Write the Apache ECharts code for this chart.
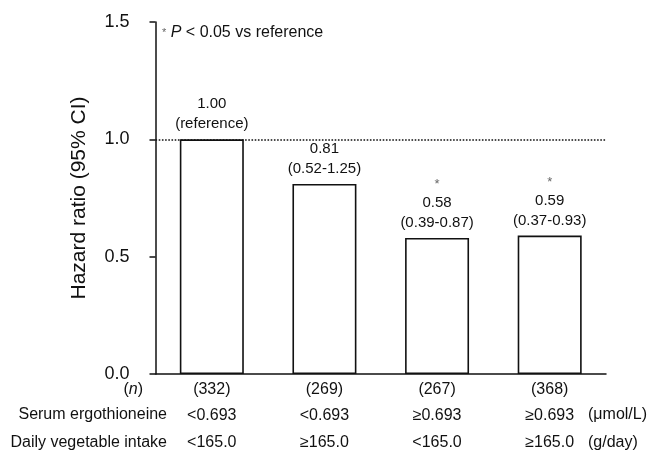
<!DOCTYPE html>
<html>
<head>
<meta charset="utf-8">
<script src="https://cdn.jsdelivr.net/npm/echarts@6/dist/echarts.min.js"></script>
<style>
  html, body { margin: 0; padding: 0; background: #fff; }
  #chart { width: 649px; height: 454px; }
</style>
</head>
<body>
<div id="chart"></div>
<script>
// datos
const groups = ["G1", "G2", "G3", "G4"];
const hazardRatios = [1.00, 0.81, 0.58, 0.59];
const ciLabels = ["(reference)", "(0.52-1.25)", "(0.39-0.87)", "(0.37-0.93)"];
const significant = [false, false, true, true];
const counts = ["(332)", "(269)", "(267)", "(368)"];
const serumLevels = ["<0.693", "<0.693", "≥0.693", "≥0.693"];
const vegetableIntake = ["<165.0", "≥165.0", "<165.0", "≥165.0"];
const yTicks = [0, 0.5, 1.0, 1.5];

const FONT = "'Liberation Sans', Arial, sans-serif";

const chart = echarts.init(document.getElementById("chart"));

const option = {
    animation: false,
    backgroundColor: "#fff",
    textStyle: { fontFamily: FONT, color: "#111" },
    grid: { left: 155.5, right: 43, top: 22, bottom: 80 },
    xAxis: {
        type: "category",
        data: groups,
        axisLine: { lineStyle: { color: "#111", width: 1.5 } },
        axisTick: { show: false },
        axisLabel: {
            interval: 0,
            margin: 4,
            formatter: (value, idx) =>
                "{n|" + counts[idx] + "}\n{v|" + serumLevels[idx] + "}\n{v|" + vegetableIntake[idx] + "}",
            rich: {
                n: { fontSize: 16, lineHeight: 24, fontFamily: FONT, color: "#111" },
                v: { fontSize: 16, lineHeight: 27, fontFamily: FONT, color: "#111" }
            }
        }
    },
    yAxis: {
        type: "value",
        min: yTicks[0],
        max: yTicks[yTicks.length - 1],
        interval: 0.5,
        name: "Hazard ratio (95% CI)",
        nameLocation: "middle",
        nameGap: 66,
        nameTextStyle: { fontSize: 21, fontFamily: FONT, color: "#111" },
        axisLine: { show: true, lineStyle: { color: "#111", width: 1.5 } },
        axisTick: { show: true, length: 6, lineStyle: { color: "#111", width: 1.5 } },
        axisLabel: {
            margin: 26,
            fontSize: 18,
            color: "#111",
            formatter: (v) => v.toFixed(1)
        },
        splitLine: { show: false }
    },
    series: [
        {
            type: "bar",
            data: hazardRatios,
            barWidth: 64,
            itemStyle: { color: "#fff", borderColor: "#111", borderWidth: 1.6 },
            label: {
                show: true,
                position: "top",
                distance: 5,
                formatter: (p) => {
                    const star = significant[p.dataIndex] ? "{s|*}\n" : "";
                    return star + "{t|" + p.value.toFixed(2) + "}\n{t|" + ciLabels[p.dataIndex] + "}";
                },
                rich: {
                    t: { fontSize: 15, lineHeight: 20, fontFamily: FONT, color: "#111" },
                    s: { fontSize: 13, lineHeight: 16, fontFamily: FONT, color: "#666" }
                }
            },
            markLine: {
                silent: true,
                symbol: "none",
                label: { show: false },
                lineStyle: { color: "#111", type: "dotted", width: 1.6 },
                data: [{ yAxis: 1.0 }]
            }
        }
    ],
    graphic: [
        {
            type: "text",
            left: 162,
            top: 25,
            style: {
                text: "{s|*} {i|P} < 0.05 vs reference",
                rich: {
                    s: { fontSize: 11, fill: "#666", fontFamily: FONT },
                    i: { fontSize: 16, fontStyle: "italic", fill: "#111", fontFamily: FONT }
                },
                fontSize: 16,
                fontFamily: FONT,
                fill: "#111"
            }
        },
        {
            type: "text",
            x: 143, y: 390,
            style: {
                text: "({i|n})",
                rich: { i: { fontSize: 16, fontStyle: "italic", fontFamily: FONT, fill: "#111" } },
                fontSize: 16, fontFamily: FONT, fill: "#111",
                align: "right", verticalAlign: "middle"
            }
        },
        {
            type: "text",
            x: 167, y: 415,
            style: {
                text: "Serum ergothioneine", fontSize: 16, fontFamily: FONT, fill: "#111",
                align: "right", verticalAlign: "middle"
            }
        },
        {
            type: "text",
            x: 167, y: 443,
            style: {
                text: "Daily vegetable intake", fontSize: 16, fontFamily: FONT, fill: "#111",
                align: "right", verticalAlign: "middle"
            }
        },
        {
            type: "text",
            x: 588, y: 415,
            style: {
                text: "(μmol/L)", fontSize: 16, fontFamily: FONT, fill: "#111",
                align: "left", verticalAlign: "middle"
            }
        },
        {
            type: "text",
            x: 588, y: 443,
            style: {
                text: "(g/day)", fontSize: 16, fontFamily: FONT, fill: "#111",
                align: "left", verticalAlign: "middle"
            }
        }
    ]
};

chart.setOption(option);

window.addEventListener("resize", () => chart.resize());
</script>
</body>
</html>
